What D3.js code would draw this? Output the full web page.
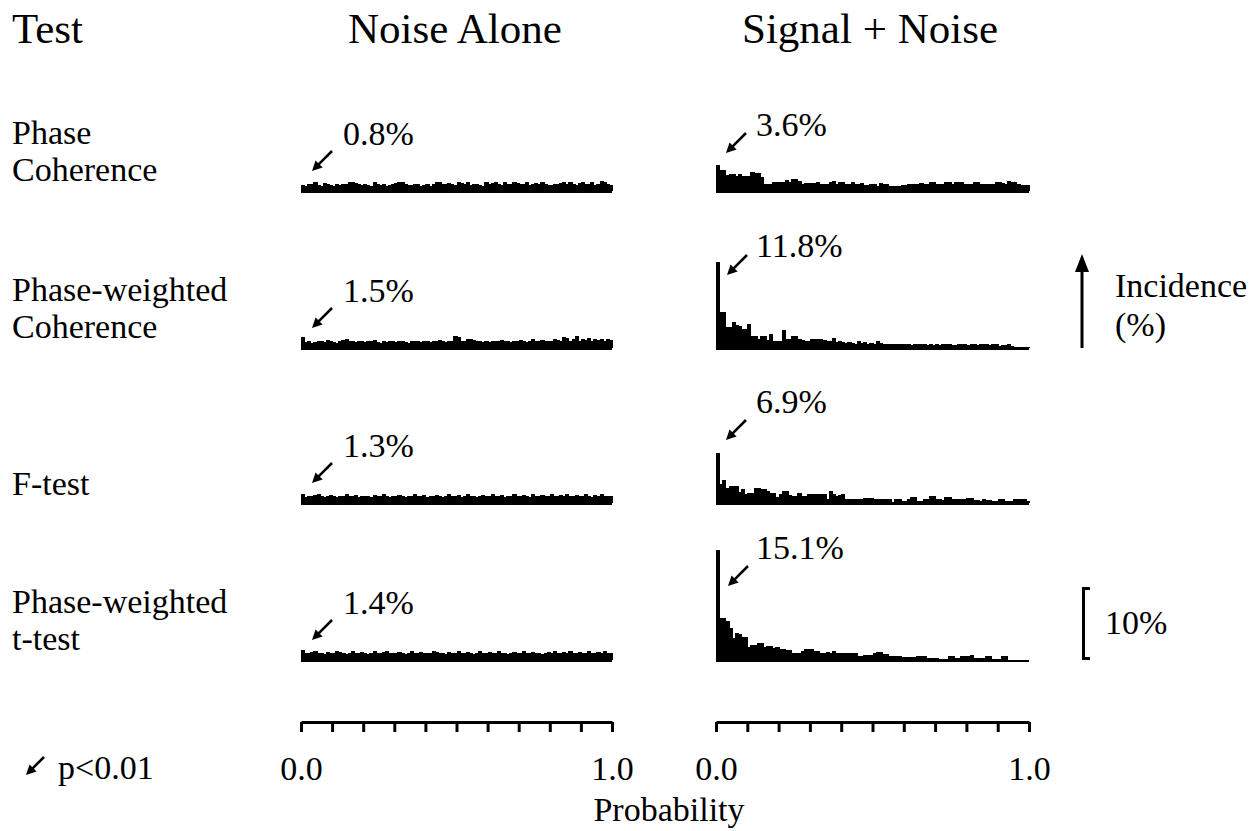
<!DOCTYPE html>
<html><head><meta charset="utf-8">
<script src="https://cdn.jsdelivr.net/npm/d3@7"></script>
<style>
html,body{margin:0;padding:0;background:#fff;}
svg{display:block;}
text{font-family:"Liberation Serif","Times New Roman",serif;fill:#000;}
</style></head>
<body>
<svg id="chart" width="1258" height="831"></svg>
<script>
// ---------------- DATA ----------------
const conditions = ["Noise Alone", "Signal + Noise"];
const testLabels = [["Phase", "Coherence"], ["Phase-weighted", "Coherence"], ["F-test"], ["Phase-weighted", "t-test"]];
const noisePercentLabels = ["0.8%", "1.5%", "1.3%", "1.4%"];
const signalPercentLabels = ["3.6%", "11.8%", "6.9%", "15.1%"];
const binWidth = 0.01;
const axisTickValues = [0, 0.1, 0.2, 0.3, 0.4, 0.5, 0.6, 0.7, 0.8, 0.9, 1.0];
const axisTickLabels = ["0.0", "", "", "", "", "", "", "", "", "", "1.0"];
const scaleBarValue = 10;
const scaleBarLabel = "10%";
const axisTitle = "Probability";
const legendLabel = "p<0.01";
const incidenceLabel = ["Incidence", "(%)"];

// Incidence (%) per probability bin (100 bins of 0.01)
const noisePhaseCoherence = [0.8,0.7,0.9,1.0,1.2,0.8,0.7,1.1,0.9,0.8,
0.7,0.9,0.8,1.0,0.9,1.2,1.3,1.1,0.9,0.8,
1.0,0.8,0.7,1.2,0.9,0.8,0.9,0.7,0.8,1.0,
1.1,1.2,1.3,0.9,0.8,0.8,1.0,0.9,0.7,0.8,
0.9,0.7,1.0,1.3,1.3,1.0,0.9,1.1,1.0,0.8,
1.2,1.1,0.9,1.2,0.8,1.0,0.9,0.8,0.7,1.2,
1.0,1.1,1.2,0.9,0.8,1.3,1.0,0.9,1.2,1.1,
0.9,1.0,1.2,0.8,0.9,1.1,0.9,1.3,0.9,0.8,
0.8,1.0,0.9,1.1,1.2,0.9,1.3,1.0,0.8,1.1,
1.3,1.0,0.9,1.2,0.8,1.0,1.4,1.3,1.0,0.8];

const noisePWCoherence = [1.5,0.8,0.9,0.7,0.8,1.0,0.9,0.8,1.1,0.9,
0.8,0.7,0.9,1.1,1.2,1.0,0.9,0.8,1.0,0.9,
0.8,0.9,1.0,1.1,0.8,0.7,0.9,0.8,1.0,0.9,
0.8,0.9,1.0,0.8,0.7,0.9,1.0,0.9,0.8,1.0,
0.9,0.8,1.0,0.9,1.1,1.0,0.8,0.9,1.0,1.6,
1.5,1.0,0.9,1.2,1.3,1.1,0.9,1.0,0.8,0.9,
0.8,0.9,1.0,0.9,1.1,1.0,0.9,0.8,1.0,0.9,
1.1,1.0,0.8,0.9,1.2,1.0,0.9,1.1,1.0,0.9,
1.0,1.2,1.1,1.0,1.5,1.4,1.0,1.2,1.6,1.0,
1.3,1.1,1.4,1.0,1.2,1.1,1.3,1.0,1.2,1.1];

const noiseFTest = [1.3,0.8,1.0,0.9,1.1,1.2,0.9,0.8,1.0,1.1,
0.9,0.8,1.0,0.9,1.2,1.0,0.9,1.1,0.8,0.9,
1.0,0.9,0.8,1.1,1.0,0.9,1.2,0.9,0.8,1.0,
0.9,1.1,1.0,0.8,0.9,1.0,1.2,0.9,1.0,1.1,
0.8,0.9,1.0,1.1,0.9,0.8,1.0,1.2,0.9,1.0,
1.1,0.8,1.0,1.3,0.9,1.0,0.8,0.9,1.1,1.0,
0.9,1.2,1.0,0.9,1.1,0.8,1.0,0.9,1.2,1.0,
0.9,1.1,1.0,0.8,1.2,1.0,0.9,1.1,0.9,1.0,
1.2,0.9,1.0,1.1,0.9,1.3,1.0,0.9,1.1,1.0,
0.9,1.2,1.0,0.8,1.1,1.0,1.2,0.9,1.0,0.9];

const noisePWTTest = [1.4,1.0,0.9,1.1,1.2,0.9,1.0,0.8,1.1,0.9,
1.0,1.2,1.1,0.9,0.8,1.0,1.3,1.0,0.9,1.1,
1.0,0.8,0.9,1.2,1.0,0.9,1.1,1.3,1.0,0.9,
1.0,1.1,0.9,0.8,1.0,1.2,1.0,0.9,1.1,1.0,
0.9,1.0,1.2,1.1,0.9,1.0,0.8,1.1,1.0,0.9,
1.2,1.0,0.9,1.1,1.0,0.8,1.0,1.2,0.9,1.0,
1.1,0.9,1.0,1.2,1.0,0.9,0.8,1.0,1.1,0.9,
1.0,1.2,0.9,1.0,1.1,0.9,1.0,0.8,1.0,1.1,
0.9,1.2,1.0,0.9,1.1,1.0,1.2,0.9,1.0,1.1,
0.9,1.0,1.2,1.0,0.9,1.1,1.0,1.2,0.9,1.0];

const signalPhaseCoherence = [3.6,2.85,2.85,2.2,2.3,2.3,2.1,2.3,2.1,2.0,
2.0,2.55,2.4,2.4,1.85,0.95,0.95,0.95,1.2,1.2,
1.2,1.3,1.55,1.3,1.6,1.6,1.4,0.95,1.1,1.1,
1.1,1.1,1.2,0.95,0.95,0.95,1.2,1.4,0.95,1.3,
1.3,0.9,0.9,1.3,0.95,0.95,1.1,0.8,0.8,0.9,
0.9,0.65,1.1,0.9,0.9,0.65,0.65,0.65,0.65,0.8,
0.8,1.0,1.0,0.9,0.9,1.1,0.9,0.9,1.2,1.2,
1.0,1.0,0.9,1.2,1.2,0.95,1.2,1.2,1.2,0.9,
0.9,0.95,1.2,1.2,0.9,0.9,0.95,0.95,0.95,1.3,
1.3,1.1,0.9,1.4,1.2,1.2,0.9,0.8,0.8,0.8];

const signalPWCoherence = [11.8,5.0,4.9,2.9,2.9,3.6,3.1,3.0,2.6,2.6,
3.3,1.6,1.6,1.2,1.7,1.7,1.1,1.9,1.0,1.0,
1.0,2.5,1.2,1.2,1.6,1.6,1.2,1.1,1.0,0.9,
1.3,1.3,1.3,1.2,1.1,0.9,0.9,1.4,0.8,0.9,
0.8,0.7,0.8,0.7,0.6,0.9,0.7,0.8,0.6,0.7,
0.6,0.9,0.7,0.6,0.6,0.6,0.5,0.5,0.6,0.5,
0.6,0.5,0.4,0.5,0.5,0.5,0.5,0.4,0.5,0.4,
0.5,0.4,0.5,0.6,0.5,0.4,0.4,0.5,0.5,0.6,
0.4,0.5,0.5,0.4,0.6,0.6,0.5,0.4,0.5,0.5,
0.3,0.4,0.4,0.5,0.3,0.2,0.2,0.1,0.1,0.1];

const signalFTest = [6.9,2.6,3.2,2.1,2.3,2.3,2.3,1.5,1.9,1.3,
1.35,1.35,2.1,2.1,1.85,1.85,1.6,1.4,1.4,0.8,
1.3,1.6,1.6,1.1,0.9,0.9,1.35,1.0,1.0,1.25,
1.25,1.2,1.2,1.2,1.2,0.6,1.6,1.2,0.9,1.1,
1.2,0.6,0.6,0.6,0.5,0.5,0.5,0.7,0.7,0.7,
0.6,0.6,0.6,0.5,0.5,0.5,0.15,0.5,0.5,0.25,
0.25,0.6,0.8,0.8,0.25,0.25,0.5,0.5,0.95,0.95,
0.5,0.5,0.35,0.85,0.85,0.6,0.5,0.5,0.5,0.5,
0.7,0.7,0.4,0.4,0.25,0.5,0.35,0.35,0.25,0.25,
0.5,0.5,0.25,0.25,0.25,0.5,0.6,0.6,0.5,0.25];

const signalPWTTest = [15.1,5.8,5.7,5.3,4.4,3.0,3.7,3.5,3.2,3.2,
1.8,2.0,2.0,2.3,2.3,1.75,1.95,1.95,1.7,1.8,
1.55,1.55,1.4,1.4,1.0,1.0,1.0,1.2,1.45,1.45,
1.45,1.2,1.2,1.0,1.0,1.1,1.0,1.2,1.0,1.0,
0.9,0.9,0.9,0.9,0.9,0.6,0.6,0.7,0.7,0.7,
0.9,1.1,1.1,0.8,0.8,0.5,0.5,0.6,0.6,0.4,
0.4,0.4,0.4,0.4,0.5,0.5,0.5,0.3,0.3,0.3,
0.3,0.15,0.15,0.15,0.6,0.6,0.3,0.3,0.5,0.5,
0.5,0.7,0.3,0.3,0.3,0.3,0.55,0.55,0.15,0.15,
0.15,0.6,0.6,0,0,0,0,0,0,0];

const noiseSeries = [noisePhaseCoherence, noisePWCoherence, noiseFTest, noisePWTTest];
const signalSeries = [signalPhaseCoherence, signalPWCoherence, signalFTest, signalPWTTest];

// ---------------- LAYOUT ----------------
const rowBase = [191, 348, 503, 660];
const panelRanges = [[301, 612], [716, 1029]];
const axisY = 722;
const labelFont = 34, titleFont = 43;
const sigArrowTail = [[746, 133], [747, 255], [746, 420], [748, 566]];
const sigLabelY = [136, 257, 413, 559];

const svg = d3.select("#chart");
svg.append("rect").attr("width", 1258).attr("height", 831).attr("fill", "#fff");

const yH = d3.scaleLinear().domain([0, 10]).range([0, 73]);
const xScales = panelRanges.map(r => d3.scaleLinear().domain([0, 1]).range(r));

function arrow(g, x1, y1, x2, y2, L, w, sw) {
  const dx = x2 - x1, dy = y2 - y1, len = Math.hypot(dx, dy);
  const ux = dx / len, uy = dy / len, nx = -uy, ny = ux;
  const bx = x2 - ux * L, by = y2 - uy * L;
  g.append("line").attr("x1", x1).attr("y1", y1)
    .attr("x2", bx + ux * 2).attr("y2", by + uy * 2)
    .attr("stroke", "#000").attr("stroke-width", sw);
  g.append("path")
    .attr("d", `M${x2},${y2}L${bx + nx * w},${by + ny * w}L${bx - nx * w},${by - ny * w}Z`)
    .attr("fill", "#000");
}

// Titles
svg.append("text").attr("x", 12).attr("y", 43).attr("font-size", titleFont).text("Test");
svg.append("text").attr("x", 348).attr("y", 43).attr("font-size", titleFont).text(conditions[0]);
svg.append("text").attr("x", 742).attr("y", 43).attr("font-size", titleFont).text(conditions[1]);

// Row labels
testLabels.forEach((lines, r) => {
  const base = rowBase[r];
  const t = svg.append("text").attr("font-size", labelFont);
  if (lines.length === 1) {
    t.append("tspan").attr("x", 12).attr("y", base - 8).text(lines[0]);
  } else {
    t.append("tspan").attr("x", 12).attr("y", base - 47).text(lines[0]);
    t.append("tspan").attr("x", 12).attr("y", base - 10).text(lines[1]);
  }
});

// Histograms
function drawHist(data, x, base) {
  const g = svg.append("g").attr("shape-rendering", "crispEdges");
  const bw = x(binWidth) - x(0);
  g.selectAll("rect").data(data).join("rect")
    .attr("x", (d, i) => x(i * binWidth))
    .attr("width", bw + 1)
    .attr("y", d => base - yH(d))
    .attr("height", d => yH(d))
    .attr("fill", "#000");
  g.append("rect").attr("x", x(0)).attr("width", x(1) - x(0))
    .attr("y", base - 0.5).attr("height", 2).attr("fill", "#000");
}

noiseSeries.forEach((d, r) => drawHist(d, xScales[0], rowBase[r]));
signalSeries.forEach((d, r) => drawHist(d, xScales[1], rowBase[r]));

// Percent annotations
const ann = svg.append("g");
noisePercentLabels.forEach((lab, r) => {
  const base = rowBase[r];
  arrow(ann, 332, base - 40, 312, base - 20, 10, 5, 2.5);
  ann.append("text").attr("x", 343).attr("y", base - 46).attr("font-size", labelFont).text(lab);
});
signalPercentLabels.forEach((lab, r) => {
  const [tx, ty] = sigArrowTail[r];
  arrow(ann, tx, ty, tx - 20, ty + 20, 10, 5, 2.5);
  ann.append("text").attr("x", 756).attr("y", sigLabelY[r]).attr("font-size", labelFont).text(lab);
});

// Probability axes
xScales.forEach(x => {
  const ax = svg.append("g").attr("transform", `translate(0,${axisY})`)
    .call(d3.axisBottom(x).tickValues(axisTickValues).tickSize(10).tickSizeOuter(0)
      .tickPadding(24).tickFormat((d, i) => axisTickLabels[i]));
  ax.select(".domain").attr("stroke", "#000").attr("stroke-width", 3);
  ax.selectAll(".tick line").attr("stroke", "#000").attr("stroke-width", 3);
  ax.selectAll(".tick text").attr("font-size", labelFont)
    .attr("font-family", '"Liberation Serif","Times New Roman",serif').attr("fill", "#000");
});
svg.append("text").attr("x", 669).attr("y", 821).attr("text-anchor", "middle")
  .attr("font-size", labelFont).text(axisTitle);

// Legend
arrow(svg, 44, 757, 26, 775, 10, 5, 2.5);
svg.append("text").attr("x", 58).attr("y", 779).attr("font-size", labelFont).text(legendLabel);

// Incidence arrow
arrow(svg, 1082, 348, 1082, 254, 18, 7, 3);
svg.append("text").attr("x", 1115).attr("y", 297).attr("font-size", labelFont).text(incidenceLabel[0]);
svg.append("text").attr("x", 1115).attr("y", 336).attr("font-size", labelFont).text(incidenceLabel[1]);

// Scale bar
const sbBottom = rowBase[3], sbTop = rowBase[3] - yH(scaleBarValue);
svg.append("path")
  .attr("d", `M1090,${sbTop + 1.5}H1083.5V${sbBottom - 1.5}H1090`)
  .attr("fill", "none").attr("stroke", "#000").attr("stroke-width", 3);
svg.append("text").attr("x", 1105).attr("y", 634).attr("font-size", labelFont).text(scaleBarLabel);
</script>
</body></html>
